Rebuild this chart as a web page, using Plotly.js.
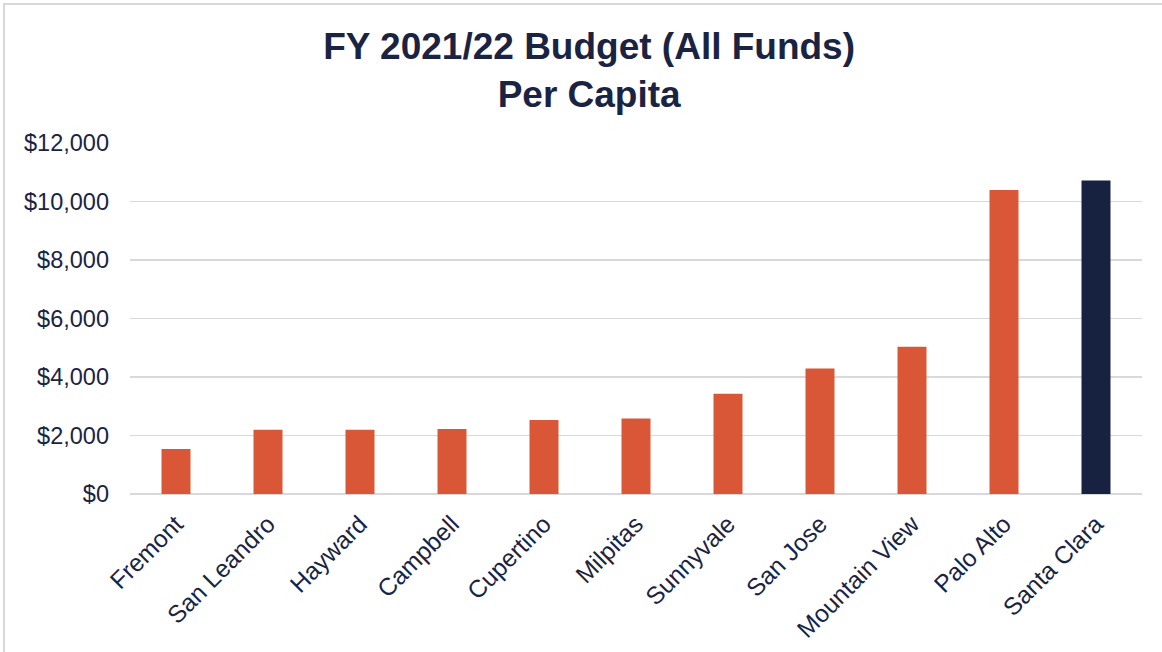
<!DOCTYPE html>
<html>
<head>
<meta charset="utf-8">
<script src="https://cdn.plot.ly/plotly-3.0.1.min.js"></script>
<style>
  html, body { margin: 0; padding: 0; background: #ffffff; }
  #wrap { position: relative; width: 1162px; height: 652px; overflow: hidden; }
  #chart { position: absolute; left: 0; top: 0; width: 1162px; height: 652px; }
  #frame { position: absolute; left: 3px; top: 3px; width: 1200px; height: 700px;
           border-left: 2px solid #d9d9d9; border-top: 2px solid #d9d9d9; pointer-events: none; }
</style>
</head>
<body>
<div id="wrap">
  <div id="chart"></div>
  <div id="frame"></div>
</div>
<script>
const cities = ["Fremont", "San Leandro", "Hayward", "Campbell", "Cupertino", "Milpitas",
                "Sunnyvale", "San Jose", "Mountain View", "Palo Alto", "Santa Clara"];
const perCapita = [1540, 2200, 2200, 2220, 2530, 2580, 3430, 4290, 5030, 10390, 10720];
const highlightCity = "Santa Clara";
const yTickVals = [0, 2000, 4000, 6000, 8000, 10000, 12000];
const yTickText = ["$0", "$2,000", "$4,000", "$6,000", "$8,000", "$10,000", "$12,000"];
const chartTitle = "FY 2021/22 Budget (All Funds)<br>Per Capita";

const orange = "#D95736";
const navy = "#172240";
const textColor = "#1a2442";

const barColors = cities.map(c => c === highlightCity ? navy : orange);

const trace = {
  type: "bar",
  x: cities,
  y: perCapita,
  marker: { color: barColors, line: { width: 0 } },
  hoverinfo: "x+y"
};

const layout = {
  width: 1162,
  height: 652,
  margin: { l: 130, r: 20, t: 143, b: 158 },
  paper_bgcolor: "#ffffff",
  plot_bgcolor: "#ffffff",
  bargap: 0.685,
  showlegend: false,
  font: { family: "Liberation Sans, Arial, sans-serif", color: textColor },
  title: {
    text: chartTitle,
    font: { family: "Liberation Sans, Arial, sans-serif", size: 37, color: textColor, weight: "bold" },
    x: 0.507,
    xanchor: "center",
    y: 0.909,
    yanchor: "top"
  },
  xaxis: {
    type: "category",
    tickangle: -45,
    tickfont: { size: 24.5, color: textColor },
    showgrid: false,
    showline: false,
    zeroline: false,
    ticks: "",
    ticklabelstandoff: 10,
    automargin: false
  },
  yaxis: {
    range: [0, 12000],
    tickvals: yTickVals,
    ticktext: yTickText,
    tickfont: { size: 23.5, color: textColor },
    showgrid: true,
    gridcolor: "#d9d9d9",
    gridwidth: 1.5,
    zeroline: true,
    zerolinecolor: "#d9d9d9",
    zerolinewidth: 1.5,
    showline: false,
    ticks: "",
    ticklabelstandoff: 20,
    automargin: false
  }
};

Plotly.newPlot("chart", [trace], layout, { displayModeBar: false, staticPlot: true });
</script>
</body>
</html>
